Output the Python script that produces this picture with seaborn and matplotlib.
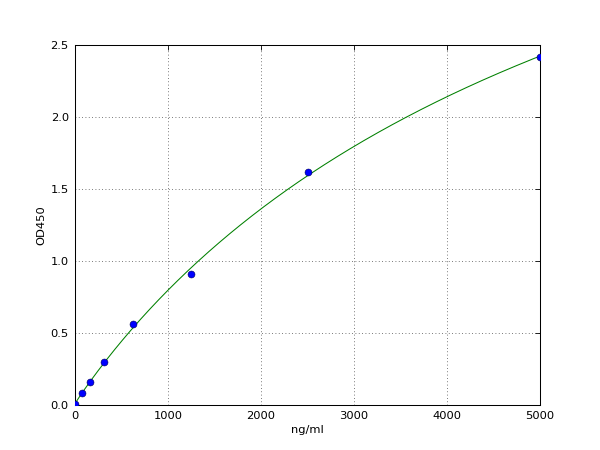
import numpy as np
import pandas as pd
import matplotlib
matplotlib.use("Agg")
import matplotlib.pyplot as plt
import seaborn as sns

conc = [0, 78, 156, 312, 625, 1250, 2500, 5000]
od = [0.005, 0.081, 0.159, 0.30, 0.561, 0.907, 1.62, 2.417]

sns.set_style("white")
plt.rcParams['font.family'] = ['DejaVu Sans']
plt.rcParams['text.color'] = 'black'
plt.rcParams['axes.labelcolor'] = 'black'
plt.rcParams['xtick.color'] = 'black'
plt.rcParams['ytick.color'] = 'black'


def four_pl(x, p):
    a, b, c, d = p
    x = np.asarray(x, float)
    return d + (a - d) / (1.0 + (np.maximum(x, 1e-9) / c) ** b)


def fit_4pl(x, y, p0, iters=500):
    x = np.asarray(x, float)
    y = np.asarray(y, float)
    p = np.array(p0, float)
    lam = 1e-3
    def resid(q):
        return y - four_pl(x, q)
    r = resid(p)
    cost = r @ r
    for _ in range(iters):
        J = np.zeros((len(x), 4))
        for k in range(4):
            h = 1e-6 * max(abs(p[k]), 1e-3)
            q = p.copy(); q[k] += h
            J[:, k] = (four_pl(x, q) - four_pl(x, p)) / h
        A = J.T @ J
        g = J.T @ r
        step = np.linalg.solve(A + lam * np.diag(np.diag(A) + 1e-12), g)
        q = p + step
        if q[2] <= 0 or q[1] <= 0:
            lam *= 10
            continue
        rq = resid(q)
        cq = rq @ rq
        if cq < cost:
            p, r, cost = q, rq, cq
            lam = max(lam / 10, 1e-12)
        else:
            lam *= 10
    return p


params = fit_4pl(conc, od, [0.0, 1.2, 4000.0, 5.0])

fig = plt.figure(figsize=(8, 6), dpi=75)
ax = fig.add_axes([0.125, 0.1, 0.775, 0.8])

xs = np.linspace(0, 5000, 400)
fit = pd.DataFrame({"x": xs, "y": four_pl(xs, params)})
sns.lineplot(data=fit, x="x", y="y", ax=ax, color=(0, 0.5, 0), linewidth=1)

pts = pd.DataFrame({"x": conc, "y": od})
sns.scatterplot(data=pts, x="x", y="y", ax=ax, color=(0, 0, 1), s=45,
                edgecolor=(0, 0, 0.3), linewidth=0.5, zorder=3)

ax.set_xlim(0, 5000)
ax.set_ylim(0, 2.5)
ax.set_xticks([0, 1000, 2000, 3000, 4000, 5000])
ax.set_yticks([0.0, 0.5, 1.0, 1.5, 2.0, 2.5])
ax.set_yticklabels(["0.0", "0.5", "1.0", "1.5", "2.0", "2.5"])
ax.set_xlabel("ng/ml", fontsize=11)
ax.set_ylabel("OD450", fontsize=11)
ax.grid(True, linestyle=(0, (1, 3)), color="0.3", linewidth=0.8)
ax.tick_params(direction="in", top=True, right=True, length=5, width=0.8,
               labelsize=11, pad=6)
for s in ax.spines.values():
    s.set_color("black")
    s.set_linewidth(1)

fig.savefig("out.png", dpi=75, facecolor="white")
